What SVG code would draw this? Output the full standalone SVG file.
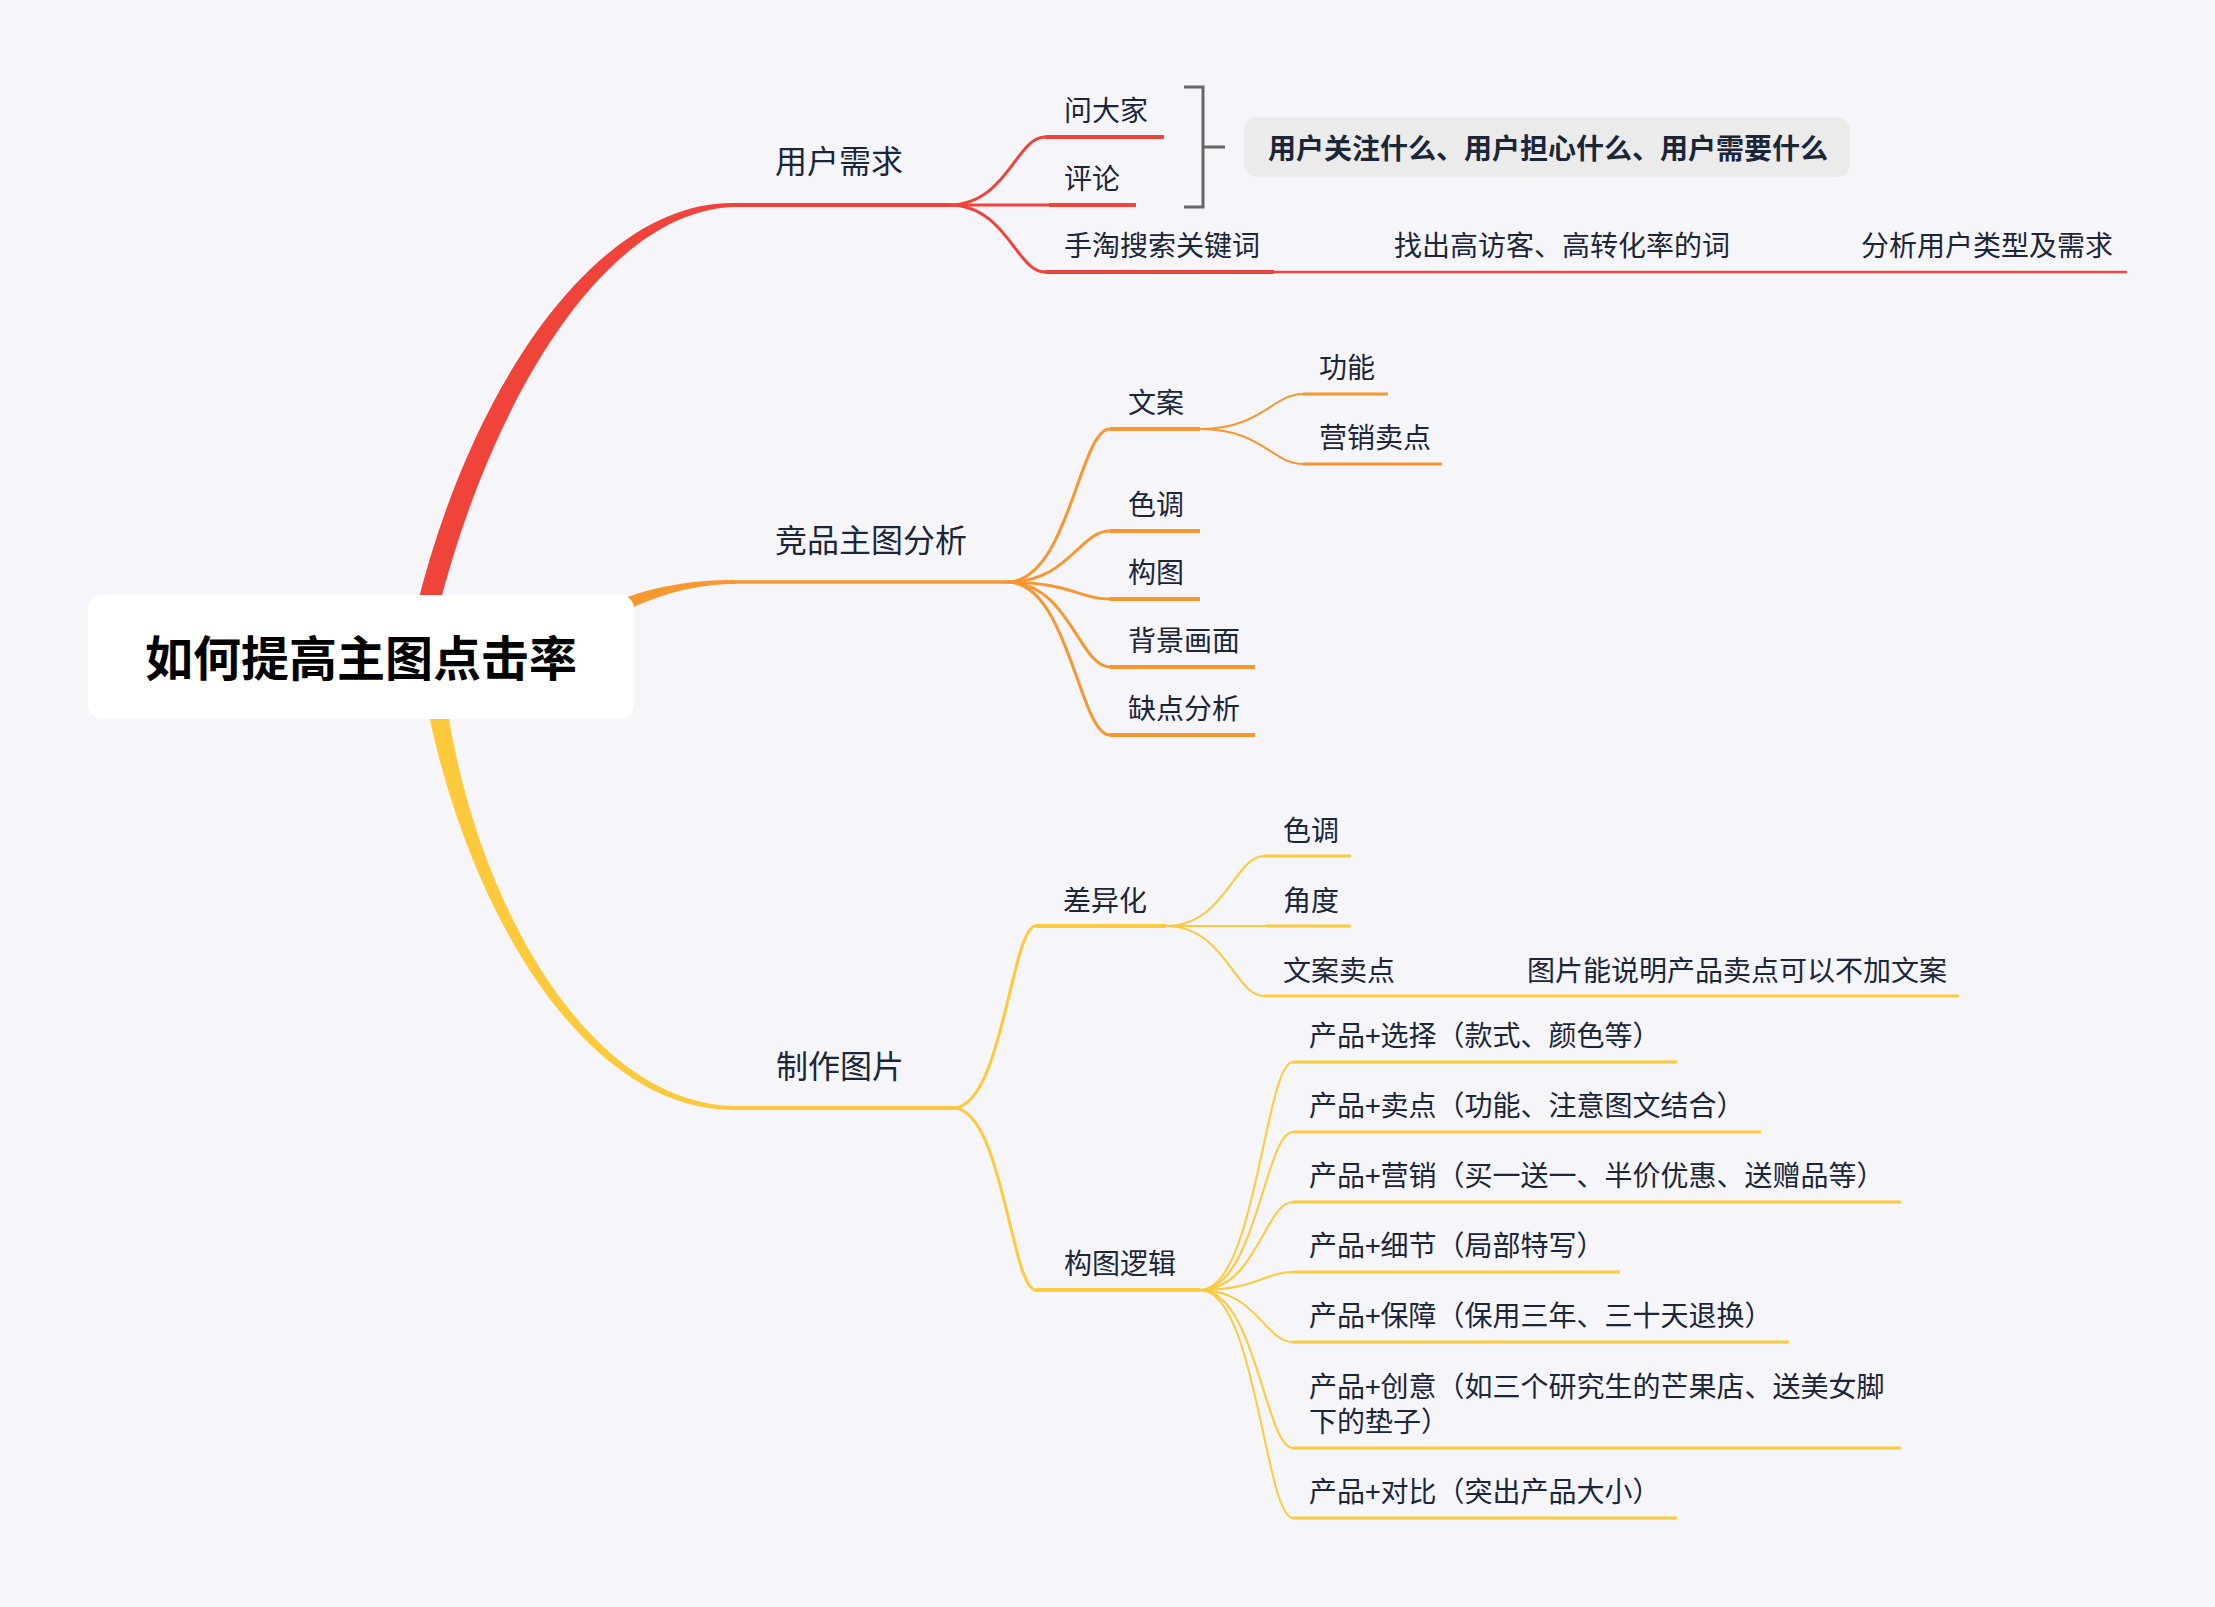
<svg xmlns="http://www.w3.org/2000/svg" width="2215" height="1607" viewBox="0 0 2215 1607">
<style>
text{font-family:"Noto Sans CJK SC","Noto Sans",sans-serif;fill:#1b2638;dominant-baseline:central}
.l1{font-size:32px}
.l2{font-size:28px}
.root{font-size:48px;font-weight:bold;fill:#000}
.sum{font-size:28px;font-weight:bold}
.r{stroke:#f0443a;fill:none;stroke-linecap:butt}
.o{stroke:#f8962f;fill:none}
.y{stroke:#fec93b;fill:none}
.c3{stroke-width:3}
.u4{stroke-width:4}
.c2{stroke-width:2}
.u3{stroke-width:3}
</style>
<rect width="2215" height="1607" fill="#f5f5fa"/>
<g id="connectors">
  <!-- trunks -->
  <path d="M416 610 C470 387,597 200,735 203 L735 207 C606 210,493 396,438 610 Z" fill="#f0443a"/>
  <path d="M600 608 C650 585,695 580,735 580 L735 584 C697 584,655 594,612 618 Z" fill="#f8962f"/>
  <path d="M426 700 C466 909,584 1111,735 1110 L735 1106 C589 1104,475 903,446 700 Z" fill="#fec93b"/>
  <path class="r u4" d="M735 205 L949 205"/>
  <path class="o" stroke-width="3.5" d="M735 582 L1007 582"/>
  <path class="y u4" d="M735 1108 L953 1108"/>
  <!-- red children -->
  <path class="r c3" d="M949 205 C1006.6 205,1016.2 137,1045 137"/>
  <path class="r u4" d="M1045 137 L1164 137"/>
  <path class="r c3" d="M949 205 L1049 205"/>
  <path class="r u4" d="M1049 205 L1136 205"/>
  <path class="r c3" d="M949 205 C1006.6 205,1016.2 272,1045 272"/>
  <path class="r u4" d="M1045 272 L1274 272"/>
  <path class="r" stroke-width="2.5" d="M1274 272 L2127 272"/>
  <!-- orange children -->
  <path class="o c3" d="M1007 582 C1068.8 582,1079.1 429,1110 429"/>
  <path class="o u4" d="M1110 429 L1200 429"/>
  <path class="o c3" d="M1007 582 C1068.8 582,1079.1 531,1110 531"/>
  <path class="o u4" d="M1110 531 L1200 531"/>
  <path class="o c3" d="M1007 582 C1068.8 582,1079.1 599,1110 599"/>
  <path class="o u4" d="M1110 599 L1200 599"/>
  <path class="o c3" d="M1007 582 C1068.8 582,1079.1 667,1110 667"/>
  <path class="o u4" d="M1110 667 L1255 667"/>
  <path class="o c3" d="M1007 582 C1068.8 582,1079.1 735,1110 735"/>
  <path class="o u4" d="M1110 735 L1255 735"/>
  <path class="o c2" d="M1200 429 C1261.8 429,1272.1 394,1303 394"/>
  <path class="o u3" d="M1303 394 L1388 394"/>
  <path class="o c2" d="M1200 429 C1261.8 429,1272.1 464,1303 464"/>
  <path class="o u3" d="M1303 464 L1442 464"/>
  <!-- yellow children -->
  <path class="y c3" d="M953 1108 C1002.8 1108,1011.1 926,1036 926"/>
  <path class="y u4" d="M1036 926 L1166 926"/>
  <path class="y c3" d="M953 1108 C1002.8 1108,1011.1 1290,1036 1290"/>
  <path class="y u4" d="M1036 1290 L1200 1290"/>
  <path class="y c2" d="M1166 926 C1224.8 926,1234.6 856,1264 856"/>
  <path class="y u3" d="M1264 856 L1351 856"/>
  <path class="y c2" d="M1166 926 L1266 926"/>
  <path class="y u3" d="M1266 926 L1351 926"/>
  <path class="y c2" d="M1166 926 C1224.8 926,1234.6 996,1264 996"/>
  <path class="y u3" d="M1264 996 L1959 996"/>
  <path class="y c2" d="M1200 1290 C1255.8 1290,1265.1 1062,1293 1062"/>
  <path class="y u3" d="M1293 1062 L1677 1062"/>
  <path class="y c2" d="M1200 1290 C1255.8 1290,1265.1 1132,1293 1132"/>
  <path class="y u3" d="M1293 1132 L1761 1132"/>
  <path class="y c2" d="M1200 1290 C1255.8 1290,1265.1 1202,1293 1202"/>
  <path class="y u3" d="M1293 1202 L1901 1202"/>
  <path class="y c2" d="M1200 1290 C1255.8 1290,1265.1 1272,1293 1272"/>
  <path class="y u3" d="M1293 1272 L1620 1272"/>
  <path class="y c2" d="M1200 1290 C1255.8 1290,1265.1 1342,1293 1342"/>
  <path class="y u3" d="M1293 1342 L1789 1342"/>
  <path class="y c2" d="M1200 1290 C1255.8 1290,1265.1 1448,1293 1448"/>
  <path class="y u3" d="M1293 1448 L1901 1448"/>
  <path class="y c2" d="M1200 1290 C1255.8 1290,1265.1 1518,1293 1518"/>
  <path class="y u3" d="M1293 1518 L1677 1518"/>
  <!-- summary bracket -->
  <path d="M1184 87 L1203 87 L1203 207 L1184 207 M1203 147 L1225 147" stroke="#666" stroke-width="3" fill="none"/>
</g>
<g id="root">
  <rect x="88" y="595" width="546" height="124" rx="14" fill="#fff"/>
  <text class="root" x="145" y="655">如何提高主图点击率</text>
</g>
<g id="n-yonghu"><text class="l1" x="775" y="159">用户需求</text></g>
<g id="n-wendajia"><text class="l2" x="1064" y="109">问大家</text></g>
<g id="n-pinglun"><text class="l2" x="1064" y="177">评论</text></g>
<g id="n-shoutao"><text class="l2" x="1064" y="244">手淘搜索关键词</text></g>
<g id="n-zhaochu"><text class="l2" x="1394" y="244">找出高访客、高转化率的词</text></g>
<g id="n-fenxi"><text class="l2" x="1861" y="244">分析用户类型及需求</text></g>
<g id="summary">
  <rect x="1244" y="117" width="606" height="60" rx="13" fill="#ebebeb"/>
  <text class="sum" x="1268" y="147">用户关注什么、用户担心什么、用户需要什么</text>
</g>
<g id="n-jingpin"><text class="l1" x="775" y="538">竞品主图分析</text></g>
<g id="n-wenan"><text class="l2" x="1128" y="401">文案</text></g>
<g id="n-gongneng"><text class="l2" x="1319" y="366">功能</text></g>
<g id="n-yingxiao"><text class="l2" x="1319" y="436">营销卖点</text></g>
<g id="n-sediao1"><text class="l2" x="1128" y="503">色调</text></g>
<g id="n-goutu"><text class="l2" x="1128" y="571">构图</text></g>
<g id="n-beijing"><text class="l2" x="1128" y="639">背景画面</text></g>
<g id="n-quedian"><text class="l2" x="1128" y="707">缺点分析</text></g>
<g id="n-zhizuo"><text class="l1" x="776" y="1064">制作图片</text></g>
<g id="n-chayi"><text class="l2" x="1063" y="899">差异化</text></g>
<g id="n-sediao2"><text class="l2" x="1283" y="829">色调</text></g>
<g id="n-jiaodu"><text class="l2" x="1283" y="899">角度</text></g>
<g id="n-wamaidian"><text class="l2" x="1283" y="969">文案卖点</text></g>
<g id="n-tupian"><text class="l2" x="1527" y="969">图片能说明产品卖点可以不加文案</text></g>
<g id="n-goutuluoji"><text class="l2" x="1064" y="1262">构图逻辑</text></g>
<g id="n-xuanze"><text class="l2" x="1309" y="1034">产品+选择（款式、颜色等）</text></g>
<g id="n-maidian"><text class="l2" x="1309" y="1104">产品+卖点（功能、注意图文结合）</text></g>
<g id="n-yingxiao2"><text class="l2" x="1309" y="1174">产品+营销（买一送一、半价优惠、送赠品等）</text></g>
<g id="n-xijie"><text class="l2" x="1309" y="1244">产品+细节（局部特写）</text></g>
<g id="n-baozhang"><text class="l2" x="1309" y="1314">产品+保障（保用三年、三十天退换）</text></g>
<g id="n-chuangyi"><text class="l2" x="1309" y="1385">产品+创意（如三个研究生的芒果店、送美女脚</text><text class="l2" x="1309" y="1420">下的垫子）</text></g>
<g id="n-duibi"><text class="l2" x="1309" y="1490">产品+对比（突出产品大小）</text></g>
</svg>
